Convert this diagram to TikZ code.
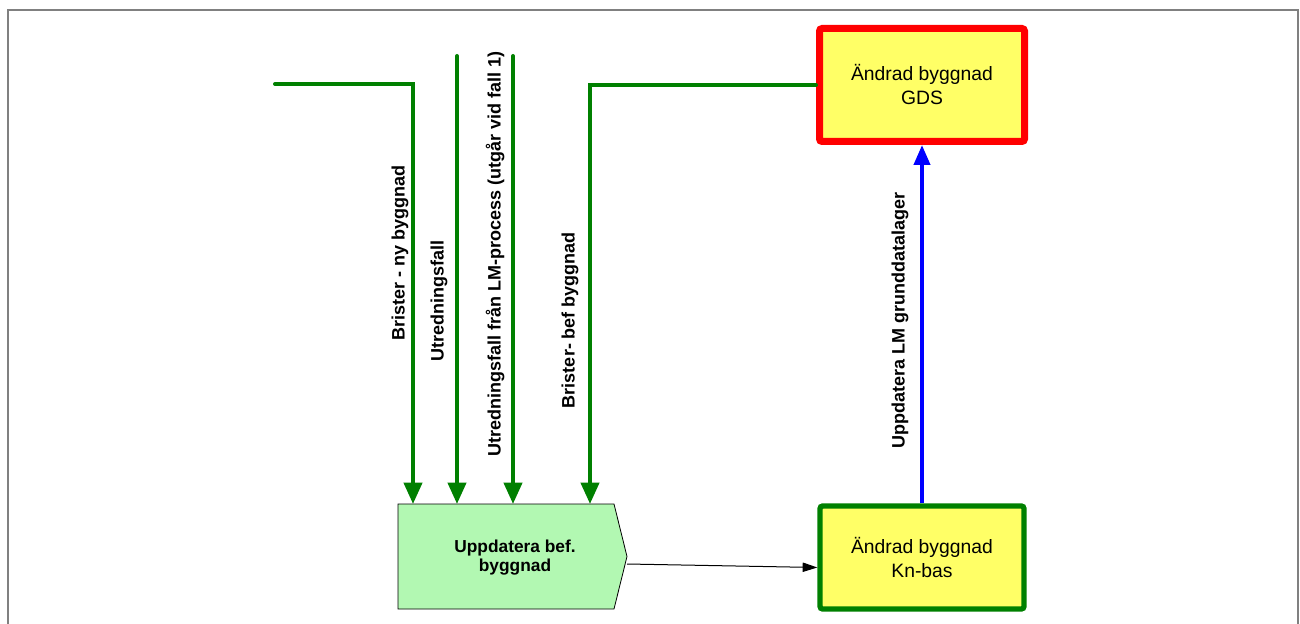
\documentclass[tikz,border=0pt]{standalone}
\usepackage{fontspec}
\setmainfont{Liberation Sans}
\usetikzlibrary{arrows.meta,calc}
\definecolor{flowgreen}{RGB}{0,128,0}
\definecolor{boxyellow}{RGB}{255,255,102}
\definecolor{procgreen}{RGB}{178,248,178}
\definecolor{framegray}{RGB}{128,128,128}
\begin{document}
\begin{tikzpicture}[x=0.75pt,y=-0.75pt,
  flow/.style={draw=flowgreen,line width=3pt,line cap=round,line join=miter,
    -{Triangle[width=13.5pt,length=16pt]}},
  upd/.style={draw=blue,line width=3pt,-{Triangle[width=12pt,length=15pt]}},
  thin arrow/.style={draw=black,line width=0.75pt,-{Triangle[width=7pt,length=11pt]}},
  lab/.style={font=\fontsize{13.5}{16}\selectfont\bfseries,rotate=90,inner sep=0pt},
  boxtext/.style={font=\fontsize{14.5}{18}\selectfont,align=center},
  gdsbox/.style={boxtext,draw=red,fill=boxyellow,line width=5.25pt,rounded corners=2pt,
    minimum width=153.75pt,minimum height=84.75pt,inner sep=0pt},
  knbox/.style={boxtext,draw=flowgreen,fill=boxyellow,line width=4pt,rounded corners=2pt,
    minimum width=153pt,minimum height=77.25pt,inner sep=0pt},
  procarea/.style={minimum width=162pt,minimum height=78.75pt,inner sep=0pt,outer sep=0pt},
  proctext/.style={font=\fontsize{13}{14.25}\selectfont\bfseries,align=center}
]
\useasboundingbox (0,0) rectangle (1300,624);
% frame
\draw[framegray,line width=1.5pt] (8,10) rectangle (1298,660);

% boxes
\node[gdsbox] (gds) at (922,85) {Ändrad byggnad\\GDS};
\node[knbox] (kn) at (922,557.5) {Ändrad byggnad\\Kn-bas};

% process pentagon
\node[procarea] (proc) at (506,556.5) {};
\coordinate (tip) at (627,556.5);
\draw[black,line width=0.6pt,fill=procgreen]
  (proc.north west) -- (proc.north east) -- (tip) -- (proc.south east) -- (proc.south west) -- cycle;
\node[proctext] (ptext) at (515,558) {Uppdatera bef.\\byggnad};

% green flows
\coordinate (s1) at (275,84);
\coordinate (c1) at (413,84);
\coordinate (s2) at (457,56);
\coordinate (s3) at (513,56);
\coordinate (c4) at (590,84);
\draw[flow] (s1) -- (c1) -- (c1 |- proc.north);
\draw[flow] (s2) -- (s2 |- proc.north);
\draw[flow] (s3) -- (s3 |- proc.north);
\draw[flow] (gds.west) -| (c4 |- proc.north);

% blue update
\draw[upd] (kn.north) -- (gds.south);

% black arrow
\coordinate (a1) at (627,564);
\draw[thin arrow] (a1) -- ($(kn.west)+(0,10)$);

% labels
\node[lab] (l1) at (400,253) {Brister - ny byggnad};
\node[lab] (l2) at (439,301) {Utredningsfall};
\node[lab] (l3) at (495,254) {Utredningsfall från LM-process (utgår vid fall 1)};
\node[lab] (l4) at (570,320) {Brister- bef byggnad};
\node[lab] (l5) at (900,320) {Uppdatera LM grunddatalager};
\end{tikzpicture}
\end{document}
